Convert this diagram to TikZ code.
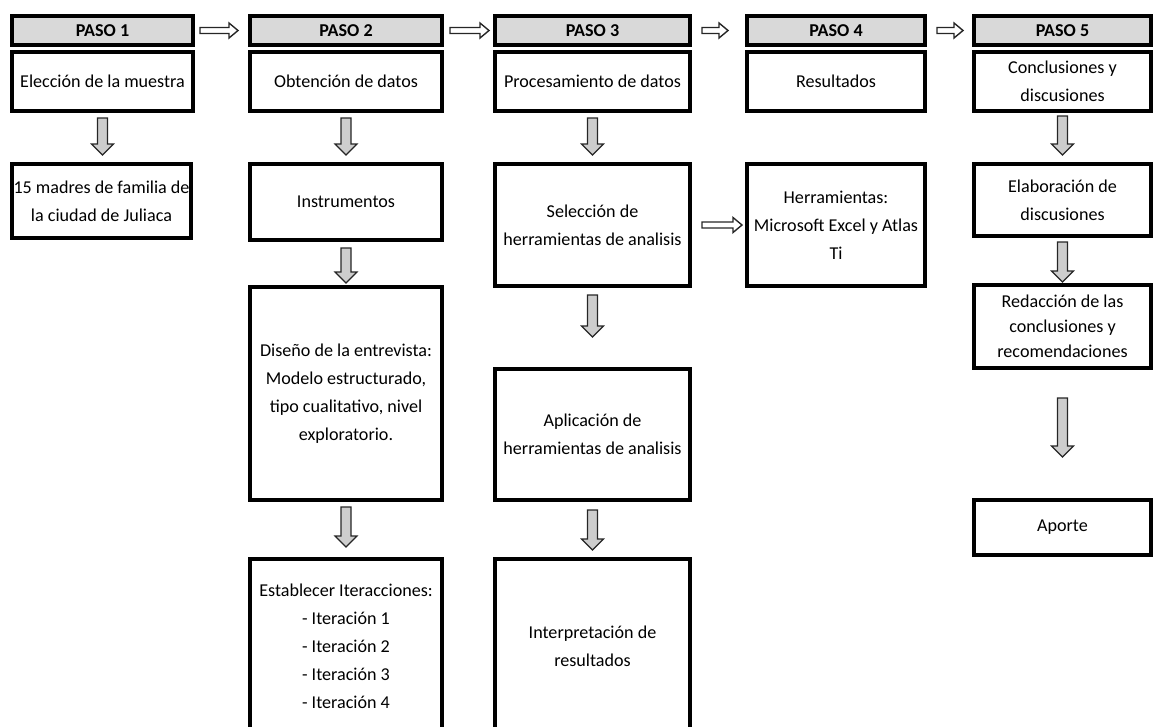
\documentclass[tikz,border=0pt]{standalone}
\usepackage{fontspec}
\setmainfont{Carlito}
\usepackage{tikz}
\usetikzlibrary{calc}
\definecolor{headgray}{RGB}{217,217,217}
\definecolor{flowgray}{RGB}{205,205,205}

\begin{document}
\begin{tikzpicture}
	[x=0.02cm, y=-0.02cm,
	 font=\fontsize{10.3}{15.9}\selectfont,
	 stage/.style 2 args={draw, line width=0.08cm, fill=white, align=center, inner sep=1pt,
	   minimum width=#1*0.02cm-0.08cm, minimum height=#2*0.02cm-0.08cm},
	 head/.style={stage={#1}{33}, fill=headgray, font=\fontsize{10.3}{12}\selectfont\bfseries},
	 vflow/.style 2 args={draw=black!85, line width=0.7pt, fill=flowgray,
	   to path={let \p1=($(\tikztostart)+(0,#1)$), \p2=($(\tikztotarget)+(0,-#2)$) in
	   (\x1-0.1cm,\y1) -- (\x1+0.1cm,\y1) -- (\x1+0.1cm,\y2+0.22cm) -- (\x1+0.22cm,\y2+0.22cm)
	   -- (\x1,\y2) -- (\x1-0.22cm,\y2+0.22cm) -- (\x1-0.1cm,\y2+0.22cm) -- cycle}},
	 hflow/.style 2 args={draw=black!85, line width=0.8pt, fill=white,
	   to path={let \p1=($(\tikztostart)+(#1,0)$), \p2=($(\tikztotarget)+(-#2,0)$) in
	   (\x1,\y1-0.06cm) -- (\x2-0.18cm,\y1-0.06cm) -- (\x2-0.18cm,\y1-0.15cm) -- (\x2,\y1)
	   -- (\x2-0.18cm,\y1+0.15cm) -- (\x2-0.18cm,\y1+0.06cm) -- (\x1,\y1+0.06cm) -- cycle}}]
	\useasboundingbox (0,0) rectangle (1157,727);
	\clip (0,0) rectangle (1157,727);

	\node[head=185] (h1) at (102.5,30.5) {PASO 1};
	\node[stage={185}{63}] (b1) at (102.5,81.5) {Elección de la muestra};
	\node[stage={183}{78}] (mad) at (101.5,201) {15 madres de familia de\\la ciudad de Juliaca};

	\node[head=196] (h2) at (346,30.5) {PASO 2};
	\node[stage={196}{63}] (b2) at (346,81.5) {Obtención de datos};
	\node[stage={196}{80}] (ins) at (346,202) {Instrumentos};
	\node[stage={196}{217}] (dis) at (346,393.5) {Diseño de la entrevista:\\Modelo estructurado,\\tipo cualitativo, nivel\\exploratorio.};
	\node[stage={196}{178}] (ite) at (346,646) {Establecer Iteracciones:\\- Iteración 1\\- Iteración 2\\- Iteración 3\\- Iteración 4};

	\node[head=199] (h3) at (592.5,30.5) {PASO 3};
	\node[stage={199}{63}] (b3) at (592.5,81.5) {Procesamiento de datos};
	\node[stage={199}{126}] (sel) at (592.5,225) {Selección de\\herramientas de analisis};
	\node[stage={199}{135}] (apl) at (592.5,434.5) {Aplicación de\\herramientas de analisis};
	\node[stage={199}{178}] (int) at (592.5,646) {Interpretación de\\resultados};

	\node[head=182] (h4) at (836,30.5) {PASO 4};
	\node[stage={182}{63}] (b4) at (836,81.5) {Resultados};
	\node[stage={182}{126}] (her) at (836,225) {Herramientas:\\Microsoft Excel y Atlas\\Ti};

	\node[head=181] (h5) at (1062.5,30.5) {PASO 5};
	\node[stage={181}{63}] (b5) at (1062.5,81.5) {Conclusiones y\\discusiones};
	\node[stage={181}{76}] (ela) at (1062.5,200) {Elaboración de\\discusiones};
	\node[stage={181}{87}, font=\fontsize{10.3}{14.2}\selectfont] (red) at (1062.5,326.5) {Redacción de las\\conclusiones y\\recomendaciones};
	\node[stage={181}{59}] (apo) at (1062.5,527.5) {Aporte};

	\draw[hflow={5}{10}] (h1.east) to (h2.west);
	\draw[hflow={6}{4}] (h2.east) to (h3.west);
	\draw[hflow={10}{17}] (h3.east) to (h4.west);
	\draw[hflow={10}{9}] (h4.east) to (h5.west);
	\draw[hflow={10}{3}] (sel.east) to (her.west);

	\draw[vflow={5}{7}] (b1.south) to (mad.north);
	\draw[vflow={5}{7}] (b2.south) to (ins.north);
	\draw[vflow={6}{2}] (ins.south) to (dis.north);
	\draw[vflow={5}{10}] (dis.south) to (ite.north);
	\draw[vflow={5}{7}] (b3.south) to (sel.north);
	\draw[vflow={7}{30}] (sel.south) to (apl.north);
	\draw[vflow={8}{7}] (apl.south) to (int.north);
	\draw[vflow={3}{7}] (b5.south) to (ela.north);
	\draw[vflow={4}{1}] (ela.south) to (red.north);
	\draw[vflow={28}{41}] (red.south) to (apo.north);
\end{tikzpicture}
\end{document}
